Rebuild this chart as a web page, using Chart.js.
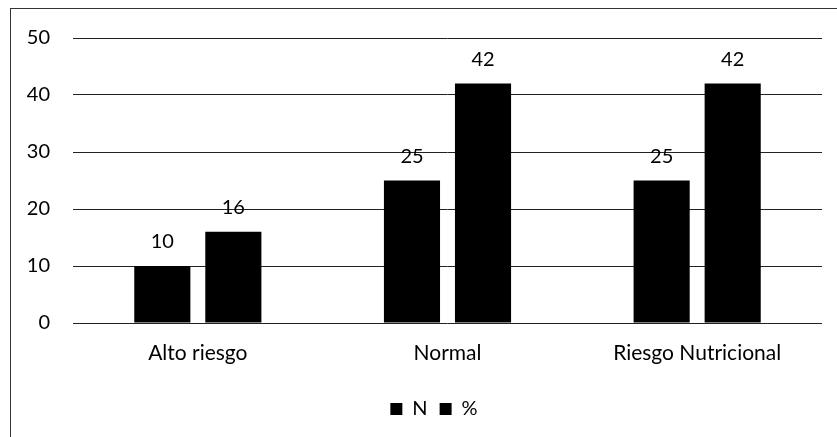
<!DOCTYPE html>
<html>
<head>
<meta charset="utf-8">
<script src="https://cdn.jsdelivr.net/npm/chart.js@4.4.1/dist/chart.umd.min.js"></script>
<style>
  html, body { margin: 0; padding: 0; background: #fff; }
  #wrap { position: relative; width: 837px; height: 437px; }
</style>
</head>
<body>
<div id="wrap"><canvas id="c" width="837" height="437"></canvas></div>
<script>
// Nutritional status counts and percentages
const categories = ['Alto riesgo', 'Normal', 'Riesgo Nutricional'];
const countN = [10, 25, 25];
const percent = [16, 42, 42];
const yTicks = [0, 10, 20, 30, 40, 50];

const FONT = 'Lato';

// White page plus the thin frame around the chart
const framePlugin = {
  id: 'frame',
  beforeDraw(chart) {
    const ctx = chart.ctx;
    ctx.save();
    ctx.fillStyle = '#fff';
    ctx.fillRect(0, 0, chart.width, chart.height);
    ctx.strokeStyle = '#333';
    ctx.lineWidth = 1;
    ctx.strokeRect(10.5, 8.5, chart.width, chart.height);
    ctx.restore();
  }
};

// Center the legend under the plot area rather than the whole canvas
const legendShift = {
  id: 'legendShift',
  afterLayout(chart) {
    if (chart.legend) chart.legend.left = 46;
  }
};

// Value labels above each bar
const valueLabels = {
  id: 'valueLabels',
  afterDatasetsDraw(chart) {
    const ctx = chart.ctx;
    ctx.save();
    ctx.font = '20px ' + FONT;
    ctx.fillStyle = '#000';
    ctx.textAlign = 'center';
    ctx.textBaseline = 'middle';
    chart.data.datasets.forEach((ds, i) => {
      const meta = chart.getDatasetMeta(i);
      meta.data.forEach((bar, j) => {
        ctx.fillText(String(ds.data[j]), bar.x, bar.y - 24);
      });
    });
    ctx.restore();
  }
};

new Chart(document.getElementById('c'), {
  type: 'bar',
  data: {
    labels: categories,
    datasets: [
      { label: 'N', data: countN, backgroundColor: '#000', borderWidth: 0 },
      { label: '%', data: percent, backgroundColor: '#000', borderWidth: 0 }
    ]
  },
  options: {
    responsive: false,
    animation: false,
    devicePixelRatio: 1,
    layout: { padding: { top: 38, right: 15, bottom: 8, left: 0 } },
    datasets: { bar: { categoryPercentage: 0.569, barPercentage: 0.79 } },
    scales: {
      x: {
        grid: { display: false, drawTicks: false },
        border: { display: false },
        ticks: { color: '#000', font: { family: FONT, size: 21 }, padding: 18, maxRotation: 0 },
        afterFit(scale) { scale.height = 64; }
      },
      y: {
        min: 0,
        max: 50,
        afterBuildTicks(scale) { scale.ticks = yTicks.map(v => ({ value: v })); },
        grid: { color: '#222', lineWidth: 1, drawTicks: false },
        border: { display: false },
        ticks: { color: '#000', font: { family: FONT, size: 20 }, padding: 23 },
        afterFit(scale) { scale.width = 73; }
      }
    },
    plugins: {
      legend: {
        position: 'bottom',
        labels: { color: '#000', font: { family: FONT, size: 20 }, boxWidth: 12, boxHeight: 12, padding: 12 }
      },
      tooltip: { enabled: false }
    }
  },
  plugins: [framePlugin, legendShift, valueLabels]
});
</script>
</body>
</html>
